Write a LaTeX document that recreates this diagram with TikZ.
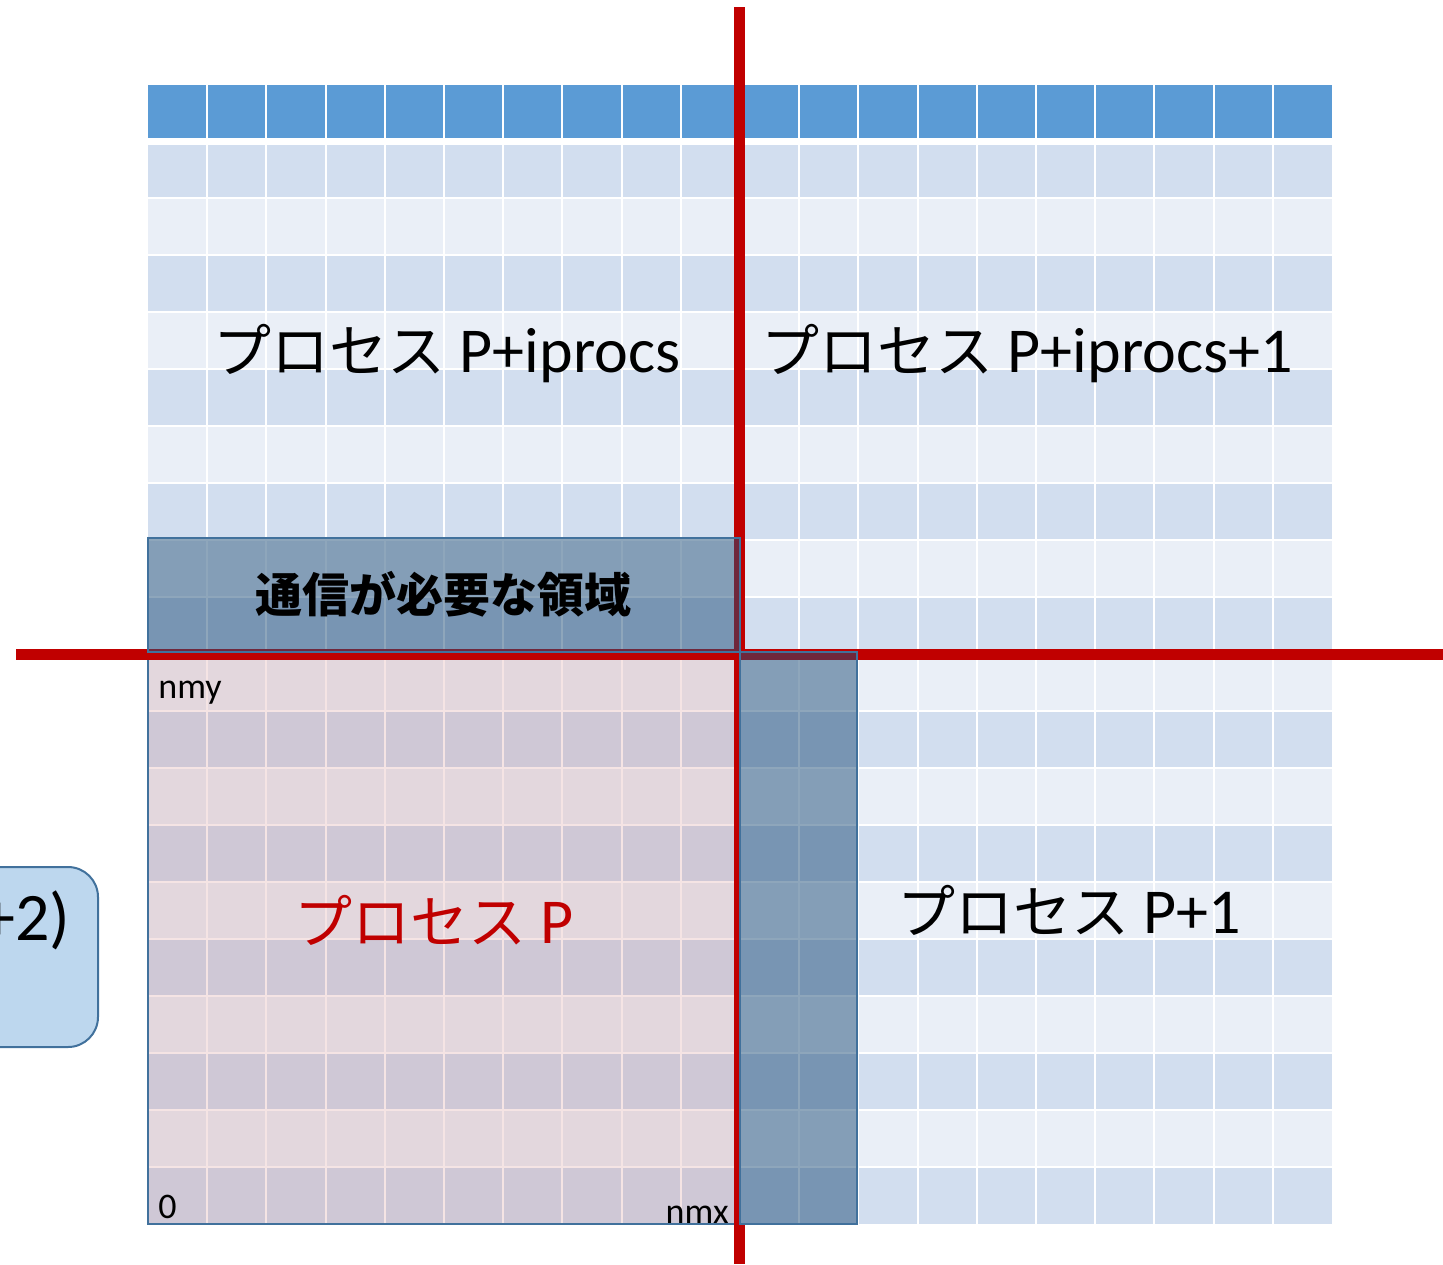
\documentclass[tikz,border=0pt]{standalone}
\usepackage{fontspec}
\setmainfont{Carlito}
\newfontfamily\jp{Noto Sans CJK JP}
\definecolor{hdr}{HTML}{5B9BD5}
\definecolor{bandA}{HTML}{D2DEEF}
\definecolor{bandB}{HTML}{EAEFF7}
\definecolor{redline}{HTML}{C00000}
\definecolor{pinkfill}{HTML}{C0504D}
\definecolor{darkfill}{HTML}{1F4E79}
\definecolor{edge}{HTML}{41719C}
\definecolor{sidefill}{HTML}{BDD7EE}
\newcommand{\jpbig}[1]{{\jp\fontsize{29}{32}\selectfont #1}}
\tikzset{
  gridline/.style={draw=white,line width=1pt},
  pinkbox/.style={fill=pinkfill,fill opacity=0.15,draw=edge,line width=1pt},
  darkbox/.style={fill=darkfill,fill opacity=0.5,draw=edge,line width=1pt},
  redbar/.style={draw=redline,line width=5.5pt},
  sidebox/.style={fill=sidefill,draw=edge,line width=1pt,rounded corners=15pt},
  bigtext/.style={inner sep=0pt,font=\fontsize{32}{35}\selectfont},
  smalltext/.style={inner sep=0pt,font=\fontsize{18}{20}\selectfont},
}
\begin{document}
\begin{tikzpicture}[x=0.5pt,y=-0.5pt]
\useasboundingbox (0,0) rectangle (1443,1264);
\clip (0,0) rectangle (1443,1264);
% table
\fill[hdr] (148,85) rectangle (1332,137.5);
\foreach \j in {0,...,18}{
  \ifodd\j \def\bandc{bandB}\else\def\bandc{bandA}\fi
  \fill[\bandc] (148,{141+57*\j}) rectangle (1332,{141+57*(\j+1)});
}
\fill[white] (148,137.5) rectangle (1332,144.5);
\foreach \i in {1,...,19}
  \draw[gridline] ({148+59.2*\i},85) -- ({148+59.2*\i},1224);
\foreach \j in {1,...,18}
  \draw[gridline] (148,{141+57*\j}) -- (1332,{141+57*\j});
% process P region
\draw[pinkbox] (148,654) rectangle (739.5,1224);
% red separators
\coordinate (vtop) at (739.5,7);
\coordinate (vmid) at (739.5,660);
\coordinate (vlowa) at (737,660);
\coordinate (vlowb) at (737,1224);
\coordinate (vbot1) at (739.5,1224);
\coordinate (vbot2) at (739.5,1264);
\coordinate (hl) at (16,654.5);
\coordinate (hr) at (1443,654.5);
\draw[redbar] (hl) -- (hr);
\draw[redbar] (vtop) -- (vmid);
\draw[redbar,line width=3pt] (vlowa) -- (vlowb);
\draw[redbar] (vbot1) -- (vbot2);
% communication regions
\draw[darkbox] (148,537.5) rectangle (739.5,652);
\draw[darkbox] (739.5,652) rectangle (857,1224);
% side box
\draw[sidebox] (-60,867) rectangle (98,1047);
% labels
\node[bigtext,anchor=base west] (t1) at (213,372) {\jpbig{プロセス} P+iprocs};
\node[bigtext,anchor=base west] (t2) at (761,372) {\jpbig{プロセス} P+iprocs+1};
\node[inner sep=0pt,font=\jp\bfseries\fontsize{23.5}{26}\selectfont] (comm) at (443,594) {通信が必要な領域};
\node[bigtext,anchor=base west,text=redline] (tp) at (294,943) {\jpbig{プロセス} P};
\node[bigtext,anchor=base west] (tp1) at (897,933) {\jpbig{プロセス} P+1};
\node[smalltext,anchor=base west] (nmy) at (158,698) {nmy};
\node[smalltext,anchor=base west] (zero) at (158,1218) {0};
\node[smalltext,anchor=base east] (nmx) at (729,1223) {nmx};
\node[inner sep=0pt,anchor=base east,font=\fontsize{34}{36}\selectfont] (side) at (71,940) {+2)};
\end{tikzpicture}
\end{document}
